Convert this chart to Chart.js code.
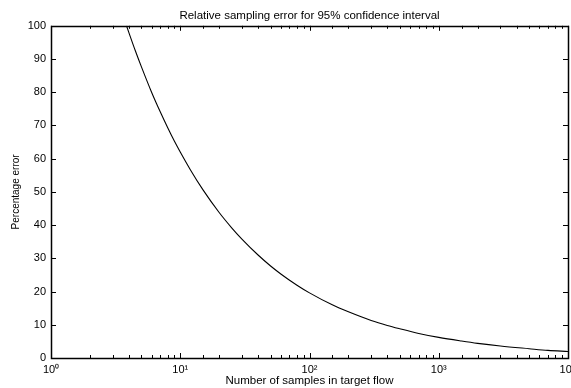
<!DOCTYPE html>
<html>
<head>
<meta charset="utf-8">
<script src="https://cdn.jsdelivr.net/npm/chart.js@4"></script>
<style>
  html, body { margin: 0; padding: 0; background: #fff; }
  #wrap { width: 571px; height: 388px; }
</style>
</head>
<body>
<div id="wrap"><canvas id="myChart" width="571" height="388"></canvas></div>
<script>
// values
const samples = [3.84, 4, 4.5, 5, 6, 7, 8, 9, 10, 12, 15, 20, 25, 30, 40, 50, 60, 80,
                 100, 150, 200, 300, 400, 500, 700, 1000, 1500, 2000, 3000, 5000, 7000, 10000];
const errors = [100, 98, 92.4, 87.7, 80, 74.1, 69.3, 65.3, 62, 56.6, 50.6, 43.8, 39.2, 35.8, 31, 27.7, 25.3, 21.9,
                19.6, 16, 13.9, 11.3, 9.8, 8.8, 7.4, 6.2, 5.1, 4.4, 3.6, 2.8, 2.3, 1.96];
const yTicks = [0, 10, 20, 30, 40, 50, 60, 70, 80, 90, 100];
const sup = ['⁰', '¹', '²', '³', '⁴'];

const points = samples.map((s, i) => ({ x: s, y: errors[i] }));

Chart.defaults.font.family = '"Liberation Sans", Arial, sans-serif';
Chart.defaults.font.size = 11;
Chart.defaults.color = '#000';

// MATLAB style box with inward ticks
const boxTicks = {
    id: 'boxTicks',
    afterDraw(chart) {
        const ctx = chart.ctx;
        const { left, right, top, bottom } = chart.chartArea;
        const xs = chart.scales.x, ys = chart.scales.y;
        ctx.save();
        ctx.strokeStyle = '#000';
        ctx.lineWidth = 1.5;
        ctx.strokeRect(Math.round(left) + 0.5, Math.round(top) + 0.5,
                       Math.round(right - left), Math.round(bottom - top));
        ctx.lineWidth = 1;
        ctx.beginPath();
        xs.ticks.forEach(t => {
            const px = Math.round(xs.getPixelForValue(t.value)) + 0.5;
            const lg = Math.log10(t.value);
            const len = Math.abs(lg - Math.round(lg)) < 1e-9 ? 5 : 3;
            ctx.moveTo(px, bottom); ctx.lineTo(px, bottom - len);
            ctx.moveTo(px, top); ctx.lineTo(px, top + len);
        });
        ys.ticks.forEach(t => {
            const py = Math.round(ys.getPixelForValue(t.value)) + 0.5;
            ctx.moveTo(left, py); ctx.lineTo(left + 5, py);
            ctx.moveTo(right, py); ctx.lineTo(right - 5, py);
        });
        ctx.stroke();
        ctx.restore();
    }
};

const ctx = document.getElementById('myChart').getContext('2d');
const myChart = new Chart(ctx, {
    type: 'scatter',
    data: {
        datasets: [{
            data: points,
            showLine: true,
            borderColor: '#000',
            borderWidth: 1.1,
            pointRadius: 0,
            cubicInterpolationMode: 'monotone'
        }]
    },
    options: {
        responsive: false,
        animation: false,
        layout: { padding: { left: 0, right: 3, top: 0, bottom: 0 } },
        plugins: {
            legend: { display: false },
            tooltip: { enabled: false },
            title: {
                display: true,
                fullSize: false,
                text: 'Relative sampling error for 95% confidence interval',
                font: { size: 11.5, weight: 'normal' },
                color: '#000',
                padding: { top: 9, bottom: 3 }
            }
        },
        scales: {
            x: {
                type: 'logarithmic',
                min: 1,
                max: 10000,
                grid: { display: false, drawTicks: false },
                border: { display: false },
                ticks: {
                    autoSkip: false,
                    maxRotation: 0,
                    padding: 5,
                    font: { size: 11 },
                    callback: (v) => {
                        const lg = Math.log10(v);
                        if (Math.abs(lg - Math.round(lg)) > 1e-9) return '';
                        return '10' + sup[Math.round(lg)];
                    }
                },
                title: {
                    display: true,
                    text: 'Number of samples in target flow',
                    font: { size: 11.5 },
                    padding: { top: 0, bottom: 0 }
                },
                afterFit: (s) => { s.height = 30; s.paddingLeft = 0; s.paddingRight = 0; }
            },
            y: {
                min: 0,
                max: 100,
                afterBuildTicks: (s) => { s.ticks = yTicks.map(v => ({ value: v })); },
                grid: { display: false, drawTicks: false },
                border: { display: false },
                ticks: { padding: 5, font: { size: 11 } },
                title: {
                    display: true,
                    text: 'Percentage error',
                    font: { size: 10 },
                    padding: { top: 10, bottom: 0 }
                },
                afterFit: (s) => { s.width = 51; }
            }
        }
    },
    plugins: [boxTicks]
});
</script>
</body>
</html>
